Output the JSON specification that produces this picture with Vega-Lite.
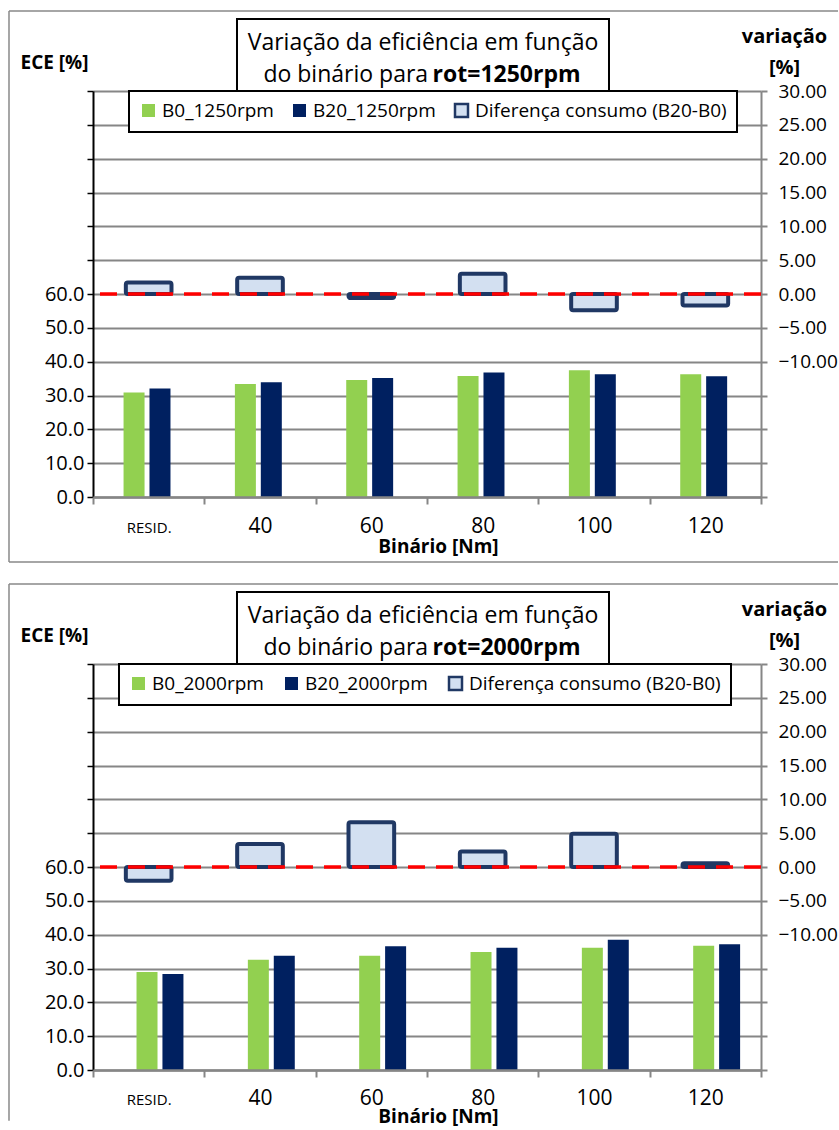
{
  "$schema": "https://vega.github.io/schema/vega-lite/v6.json",
  "background": "white",
  "padding": {"left": 8, "top": 10, "right": 0, "bottom": 0},
  "spacing": 20,
  "config": {
    "view": {"stroke": null},
    "font": "Open Sans",
    "axis": {"labelColor": "black", "titleColor": "black", "labelFont": "Open Sans", "titleFont": "Open Sans", "labelOverlap": false},
    "legend": {"labelFont": "Open Sans", "labelColor": "black"}
  },
  "datasets": {
    "ece1": [
      {"cat": "RESID.", "series": "B0_1250rpm", "ece": 30.9},
      {"cat": "RESID.", "series": "B20_1250rpm", "ece": 32.1},
      {"cat": "40", "series": "B0_1250rpm", "ece": 33.4},
      {"cat": "40", "series": "B20_1250rpm", "ece": 33.9},
      {"cat": "60", "series": "B0_1250rpm", "ece": 34.6},
      {"cat": "60", "series": "B20_1250rpm", "ece": 35.2},
      {"cat": "80", "series": "B0_1250rpm", "ece": 35.8},
      {"cat": "80", "series": "B20_1250rpm", "ece": 36.8},
      {"cat": "100", "series": "B0_1250rpm", "ece": 37.5},
      {"cat": "100", "series": "B20_1250rpm", "ece": 36.3},
      {"cat": "120", "series": "B0_1250rpm", "ece": 36.3},
      {"cat": "120", "series": "B20_1250rpm", "ece": 35.7}
    ],
    "dif1": [
      {"cat": "RESID.", "series": "Diferença consumo (B20-B0)", "diff": 1.7},
      {"cat": "40", "series": "Diferença consumo (B20-B0)", "diff": 2.4},
      {"cat": "60", "series": "Diferença consumo (B20-B0)", "diff": -0.6},
      {"cat": "80", "series": "Diferença consumo (B20-B0)", "diff": 3.0},
      {"cat": "100", "series": "Diferença consumo (B20-B0)", "diff": -2.4},
      {"cat": "120", "series": "Diferença consumo (B20-B0)", "diff": -1.7}
    ],
    "ece2": [
      {"cat": "RESID.", "series": "B0_2000rpm", "ece": 29.0},
      {"cat": "RESID.", "series": "B20_2000rpm", "ece": 28.4},
      {"cat": "40", "series": "B0_2000rpm", "ece": 32.6},
      {"cat": "40", "series": "B20_2000rpm", "ece": 33.8},
      {"cat": "60", "series": "B0_2000rpm", "ece": 33.8},
      {"cat": "60", "series": "B20_2000rpm", "ece": 36.6},
      {"cat": "80", "series": "B0_2000rpm", "ece": 34.9},
      {"cat": "80", "series": "B20_2000rpm", "ece": 36.1},
      {"cat": "100", "series": "B0_2000rpm", "ece": 36.1},
      {"cat": "100", "series": "B20_2000rpm", "ece": 38.5},
      {"cat": "120", "series": "B0_2000rpm", "ece": 36.7},
      {"cat": "120", "series": "B20_2000rpm", "ece": 37.2}
    ],
    "dif2": [
      {"cat": "RESID.", "series": "Diferença consumo (B20-B0)", "diff": -2.05},
      {"cat": "40", "series": "Diferença consumo (B20-B0)", "diff": 3.4},
      {"cat": "60", "series": "Diferença consumo (B20-B0)", "diff": 6.6},
      {"cat": "80", "series": "Diferença consumo (B20-B0)", "diff": 2.3},
      {"cat": "100", "series": "Diferença consumo (B20-B0)", "diff": 4.9},
      {"cat": "120", "series": "Diferença consumo (B20-B0)", "diff": 0.55}
    ]
  },
  "vconcat": [
    {
      "width": 668,
      "height": 406,
      "layer": [
        {
          "layer": [
            {
              "data": {"name": "ece1"},
              "mark": {"type": "bar", "width": 21},
              "encoding": {
                "x": {
                  "field": "cat", "type": "nominal", "sort": null,
                  "scale": {"domain": ["RESID.", "40", "60", "80", "100", "120"], "paddingInner": 0, "paddingOuter": 0},
                  "axis": {
                    "tickBand": "extent", "zindex": 1, "grid": false,
                    "domainColor": "#868686", "domainWidth": 2.5,
                    "tickColor": "#868686", "tickWidth": 2, "tickSize": 7,
                    "labelAngle": 0, "labelBaseline": "alphabetic", "labelPadding": 28,
                    "labelFontSize": {"condition": {"test": "datum.value === 'RESID.'", "value": 15}, "value": 21},
                    "title": "Binário [Nm]", "titleFontSize": 19, "titleFontWeight": "bold",
                    "titleX": 345, "titleY": 55, "titleAlign": "center", "titleBaseline": "alphabetic"
                  }
                },
                "xOffset": {"field": "series", "type": "nominal", "scale": {"range": [36, 85], "paddingInner": 0.22, "paddingOuter": 0}},
                "y": {
                  "field": "ece", "type": "quantitative",
                  "scale": {"domain": [0, 120], "nice": false},
                  "axis": {
                    "orient": "left",
                    "tickCount": 12,
                    "labelExpr": "datum.value <= 60 ? format(datum.value, '.1f') : ''",
                    "labelOverlap": false,
                    "grid": true, "gridColor": "#868686", "gridWidth": 2, "gridOpacity": 1,
                    "domainColor": "black", "domainWidth": 2,
                    "tickColor": "black", "tickWidth": 1.5, "tickSize": 6,
                    "labelFontSize": 20, "labelPadding": 3,
                    "title": "ECE [%]", "titleAngle": 0, "titleX": -39, "titleY": -23,
                    "titleAlign": "center", "titleBaseline": "alphabetic",
                    "titleFontSize": 19, "titleFontWeight": "bold"
                  }
                },
                "color": {
                  "field": "series", "type": "nominal",
                  "scale": {"domain": ["B0_1250rpm", "B20_1250rpm", "Diferença consumo (B20-B0)"], "range": ["#92d050", "#002060", "#d3e0f1"]},
                  "legend": {
                    "orient": "none", "legendX": 36, "legendY": 0, "direction": "horizontal", "columns": 3,
                    "title": null, "symbolType": "square", "symbolSize": 169,
                    "labelFontSize": 19, "labelOffset": 4, "labelLimit": 400, "columnPadding": 14,
                    "padding": 10, "fillColor": "white", "strokeColor": "black",
                    "encode": {
                      "legend": {"update": {"strokeWidth": {"value": 2}}},
                      "symbols": {"update": {
                        "stroke": {"signal": "datum.value === 'Diferença consumo (B20-B0)' ? '#203864' : 'transparent'"},
                        "strokeWidth": {"value": 2.5}
                      }}
                    }
                  }
                }
              }
            },
            {
              "layer": [
                {
                  "data": {"name": "dif1"},
                  "mark": {"type": "bar", "stroke": "#203864", "strokeWidth": 4, "cornerRadius": 2, "width": {"band": 0.41}},
                  "encoding": {
                    "x": {"field": "cat", "type": "nominal", "sort": null, "scale": {"domain": ["RESID.", "40", "60", "80", "100", "120"]}},
                    "y": {
                      "field": "diff", "type": "quantitative",
                      "scale": {"domain": [-30, 30], "nice": false},
                      "axis": {
                        "orient": "right",
                        "tickCount": 12,
                        "labelExpr": "datum.value >= -10 ? format(datum.value, '.2f') : ''",
                        "labelOverlap": false,
                        "grid": false,
                        "domainColor": "#868686", "domainWidth": 2,
                        "tickColor": "#868686", "tickWidth": 2, "tickSize": 6,
                        "labelFontSize": 19, "labelPadding": 11,
                        "title": ["variação", "[%]"], "titleAngle": 0, "titleX": 23, "titleY": -49,
                        "titleAlign": "center", "titleBaseline": "alphabetic", "titleLineHeight": 31,
                        "titleFontSize": 20, "titleFontWeight": "bold"
                      }
                    },
                    "y2": {"datum": 0},
                    "color": {
                      "field": "series", "type": "nominal",
                      "scale": {"domain": ["B0_1250rpm", "B20_1250rpm", "Diferença consumo (B20-B0)"], "range": ["#92d050", "#002060", "#d3e0f1"]}
                    }
                  }
                },
                {
                  "data": {"values": [{}]},
                  "mark": {"type": "rule", "color": "#ff0000", "strokeWidth": 3.5, "strokeDash": [17, 11]},
                  "encoding": {"y": {"datum": 0}}
                }
              ]
            }
          ],
          "resolve": {"scale": {"y": "independent"}}
        },
        {
          "data": {"values": [{}]},
          "layer": [
            {
              "mark": {"type": "rule", "color": "#898989", "strokeWidth": 1.5},
              "encoding": {
                "x": {"datum": -0.7545, "type": "quantitative", "scale": {"domain": [0, 6], "nice": false, "zero": false}, "axis": null},
                "y": {"datum": 143.645, "type": "quantitative", "scale": {"domain": [0, 120], "nice": false, "zero": false}, "axis": null},
                "y2": {"datum": -19.212}
              }
            },
            {
              "mark": {"type": "rule", "color": "#898989", "strokeWidth": 1.5},
              "encoding": {
                "x": {"datum": -0.7545, "type": "quantitative"},
                "x2": {"datum": 6.6916},
                "y": {"datum": 143.645, "type": "quantitative"}
              }
            },
            {
              "mark": {"type": "rule", "color": "#898989", "strokeWidth": 1.5},
              "encoding": {
                "x": {"datum": -0.7545, "type": "quantitative"},
                "x2": {"datum": 6.6916},
                "y": {"datum": -19.212, "type": "quantitative"}
              }
            },
            {
              "mark": {"type": "rect", "fill": "white", "stroke": "black", "strokeWidth": 2},
              "encoding": {
                "x": {"datum": 1.2934, "type": "quantitative"},
                "x2": {"datum": 4.6347},
                "y": {"datum": 141.28, "type": "quantitative"},
                "y2": {"datum": 120}
              }
            },
            {
              "mark": {"type": "text", "text": "Variação da eficiência em função", "align": "center", "baseline": "alphabetic", "fontSize": 23, "color": "black"},
              "encoding": {
                "x": {"datum": 2.964, "type": "quantitative"},
                "y": {"datum": 132.12, "type": "quantitative"}
              }
            },
            {
              "mark": {"type": "text", "text": "do binário para", "align": "right", "baseline": "alphabetic", "fontSize": 23, "color": "black"},
              "encoding": {
                "x": {"datum": 3.01, "type": "quantitative"},
                "y": {"datum": 122.75, "type": "quantitative"}
              }
            },
            {
              "mark": {"type": "text", "text": "rot=1250rpm", "align": "left", "baseline": "alphabetic", "fontSize": 23, "fontWeight": "bold", "color": "black"},
              "encoding": {
                "x": {"datum": 3.05, "type": "quantitative"},
                "y": {"datum": 122.75, "type": "quantitative"}
              }
            }
          ]
        }
      ],
      "resolve": {"scale": {"x": "independent", "y": "independent"}}
    },
    {
      "width": 668,
      "height": 406,
      "layer": [
        {
          "layer": [
            {
              "data": {"name": "ece2"},
              "mark": {"type": "bar", "width": 21},
              "encoding": {
                "x": {
                  "field": "cat", "type": "nominal", "sort": null,
                  "scale": {"domain": ["RESID.", "40", "60", "80", "100", "120"], "paddingInner": 0, "paddingOuter": 0},
                  "axis": {
                    "tickBand": "extent", "zindex": 1, "grid": false,
                    "domainColor": "#868686", "domainWidth": 2.5,
                    "tickColor": "#868686", "tickWidth": 2, "tickSize": 7,
                    "labelAngle": 0, "labelBaseline": "alphabetic", "labelPadding": 27,
                    "labelFontSize": {"condition": {"test": "datum.value === 'RESID.'", "value": 15}, "value": 21},
                    "title": "Binário [Nm]", "titleFontSize": 19, "titleFontWeight": "bold",
                    "titleX": 345, "titleY": 52, "titleAlign": "center", "titleBaseline": "alphabetic"
                  }
                },
                "xOffset": {"field": "series", "type": "nominal", "scale": {"range": [36, 85], "paddingInner": 0.22, "paddingOuter": 0}},
                "y": {
                  "field": "ece", "type": "quantitative",
                  "scale": {"domain": [0, 120], "nice": false},
                  "axis": {
                    "orient": "left",
                    "tickCount": 12,
                    "labelExpr": "datum.value <= 60 ? format(datum.value, '.1f') : ''",
                    "labelOverlap": false,
                    "grid": true, "gridColor": "#868686", "gridWidth": 2, "gridOpacity": 1,
                    "domainColor": "black", "domainWidth": 2,
                    "tickColor": "black", "tickWidth": 1.5, "tickSize": 6,
                    "labelFontSize": 20, "labelPadding": 3,
                    "title": "ECE [%]", "titleAngle": 0, "titleX": -39, "titleY": -23,
                    "titleAlign": "center", "titleBaseline": "alphabetic",
                    "titleFontSize": 19, "titleFontWeight": "bold"
                  }
                },
                "color": {
                  "field": "series", "type": "nominal",
                  "scale": {"domain": ["B0_2000rpm", "B20_2000rpm", "Diferença consumo (B20-B0)"], "range": ["#92d050", "#002060", "#d3e0f1"]},
                  "legend": {
                    "orient": "none", "legendX": 26, "legendY": 0, "direction": "horizontal", "columns": 3,
                    "title": null, "symbolType": "square", "symbolSize": 169,
                    "labelFontSize": 19, "labelOffset": 4, "labelLimit": 400, "columnPadding": 16,
                    "padding": 10, "fillColor": "white", "strokeColor": "black",
                    "encode": {
                      "legend": {"update": {"strokeWidth": {"value": 2}}},
                      "symbols": {"update": {
                        "stroke": {"signal": "datum.value === 'Diferença consumo (B20-B0)' ? '#203864' : 'transparent'"},
                        "strokeWidth": {"value": 2.5}
                      }}
                    }
                  }
                }
              }
            },
            {
              "layer": [
                {
                  "data": {"name": "dif2"},
                  "mark": {"type": "bar", "stroke": "#203864", "strokeWidth": 4, "cornerRadius": 2, "width": {"band": 0.41}},
                  "encoding": {
                    "x": {"field": "cat", "type": "nominal", "sort": null, "scale": {"domain": ["RESID.", "40", "60", "80", "100", "120"]}},
                    "y": {
                      "field": "diff", "type": "quantitative",
                      "scale": {"domain": [-30, 30], "nice": false},
                      "axis": {
                        "orient": "right",
                        "tickCount": 12,
                        "labelExpr": "datum.value >= -10 ? format(datum.value, '.2f') : ''",
                        "labelOverlap": false,
                        "grid": false,
                        "domainColor": "#868686", "domainWidth": 2,
                        "tickColor": "#868686", "tickWidth": 2, "tickSize": 6,
                        "labelFontSize": 19, "labelPadding": 11,
                        "title": ["variação", "[%]"], "titleAngle": 0, "titleX": 23, "titleY": -49,
                        "titleAlign": "center", "titleBaseline": "alphabetic", "titleLineHeight": 31,
                        "titleFontSize": 20, "titleFontWeight": "bold"
                      }
                    },
                    "y2": {"datum": 0},
                    "color": {
                      "field": "series", "type": "nominal",
                      "scale": {"domain": ["B0_2000rpm", "B20_2000rpm", "Diferença consumo (B20-B0)"], "range": ["#92d050", "#002060", "#d3e0f1"]}
                    }
                  }
                },
                {
                  "data": {"values": [{}]},
                  "mark": {"type": "rule", "color": "#ff0000", "strokeWidth": 3.5, "strokeDash": [17, 11]},
                  "encoding": {"y": {"datum": 0}}
                }
              ]
            }
          ],
          "resolve": {"scale": {"y": "independent"}}
        },
        {
          "data": {"values": [{}]},
          "layer": [
            {
              "mark": {"type": "rule", "color": "#898989", "strokeWidth": 1.5},
              "encoding": {
                "x": {"datum": -0.7545, "type": "quantitative", "scale": {"domain": [0, 6], "nice": false, "zero": false}, "axis": null},
                "y": {"datum": 143.645, "type": "quantitative", "scale": {"domain": [0, 120], "nice": false, "zero": false}, "axis": null},
                "y2": {"datum": -15}
              }
            },
            {
              "mark": {"type": "rule", "color": "#898989", "strokeWidth": 1.5},
              "encoding": {
                "x": {"datum": -0.7545, "type": "quantitative"},
                "x2": {"datum": 6.6916},
                "y": {"datum": 143.645, "type": "quantitative"}
              }
            },
            {
              "mark": {"type": "rect", "fill": "white", "stroke": "black", "strokeWidth": 2},
              "encoding": {
                "x": {"datum": 1.2934, "type": "quantitative"},
                "x2": {"datum": 4.6347},
                "y": {"datum": 141.28, "type": "quantitative"},
                "y2": {"datum": 120}
              }
            },
            {
              "mark": {"type": "text", "text": "Variação da eficiência em função", "align": "center", "baseline": "alphabetic", "fontSize": 23, "color": "black"},
              "encoding": {
                "x": {"datum": 2.964, "type": "quantitative"},
                "y": {"datum": 132.12, "type": "quantitative"}
              }
            },
            {
              "mark": {"type": "text", "text": "do binário para", "align": "right", "baseline": "alphabetic", "fontSize": 23, "color": "black"},
              "encoding": {
                "x": {"datum": 3.01, "type": "quantitative"},
                "y": {"datum": 122.75, "type": "quantitative"}
              }
            },
            {
              "mark": {"type": "text", "text": "rot=2000rpm", "align": "left", "baseline": "alphabetic", "fontSize": 23, "fontWeight": "bold", "color": "black"},
              "encoding": {
                "x": {"datum": 3.05, "type": "quantitative"},
                "y": {"datum": 122.75, "type": "quantitative"}
              }
            }
          ]
        }
      ],
      "resolve": {"scale": {"x": "independent", "y": "independent"}}
    }
  ],
  "resolve": {"scale": {"color": "independent"}, "legend": {"color": "independent"}}
}
